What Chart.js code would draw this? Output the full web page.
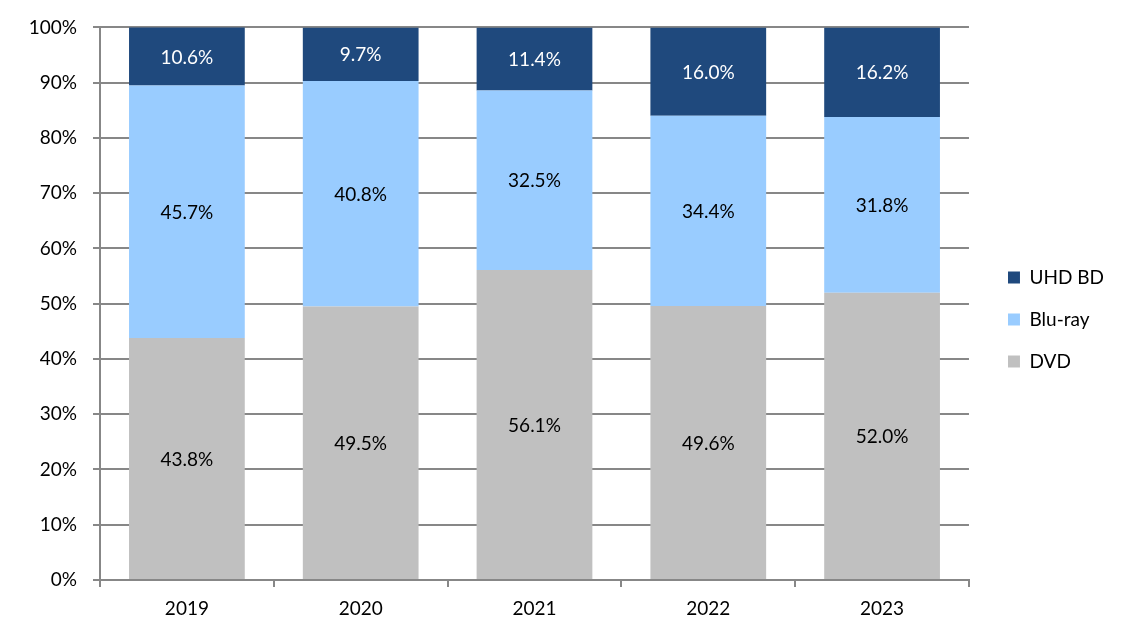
<!DOCTYPE html>
<html>
<head>
<meta charset="utf-8">
<script src="https://cdn.jsdelivr.net/npm/chart.js@4/dist/chart.umd.min.js"></script>
<style>
  html, body { margin: 0; padding: 0; background: #fff; }
  #wrap { width: 1138px; height: 640px; }
</style>
</head>
<body>
<div id="wrap"><canvas id="chart" width="1138" height="640"></canvas></div>
<script>
// values (share of units, %)
const years = ["2019", "2020", "2021", "2022", "2023"];
const dvd = [43.8, 49.5, 56.1, 49.6, 52.0];
const bluray = [45.7, 40.8, 32.5, 34.4, 31.8];
const uhd = [10.6, 9.7, 11.4, 16.0, 16.2];

const gray = "#878787";
const font = { family: "Lato, 'Noto Sans', sans-serif", size: 19 };

// draws the value in the middle of every bar segment
const barLabels = {
  id: "barLabels",
  afterDatasetsDraw(chart) {
    const ctx = chart.ctx;
    ctx.save();
    ctx.font = "19px Lato, 'Noto Sans', sans-serif";
    ctx.textAlign = "center";
    ctx.textBaseline = "middle";
    chart.data.datasets.forEach((ds, i) => {
      const meta = chart.getDatasetMeta(i);
      meta.data.forEach((bar, j) => {
        const p = bar.getCenterPoint();
        const top = Math.max(bar.y, chart.chartArea.top);
        ctx.fillStyle = ds.labelColor;
        ctx.fillText(ds.data[j].toFixed(1) + "%", p.x, (top + bar.base) / 2 + 1);
      });
    });
    ctx.restore();
  }
};

// nudge the legend a bit right and up, like the original
const legendShift = {
  id: "legendShift",
  afterLayout(chart) {
    const lg = chart.legend;
    lg.left += 16; lg.right += 16;
    lg.top -= 13; lg.bottom -= 13;
  }
};

new Chart(document.getElementById("chart"), {
  type: "bar",
  data: {
    labels: years,
    datasets: [
      { label: "DVD", data: dvd, backgroundColor: "#C0C0C0", labelColor: "#000" },
      { label: "Blu-ray", data: bluray, backgroundColor: "#99CCFF", labelColor: "#000" },
      { label: "UHD BD", data: uhd, backgroundColor: "#1F497D", labelColor: "#fff" }
    ]
  },
  options: {
    responsive: false,
    devicePixelRatio: 1,
    animation: false,
    datasets: {
      bar: { categoryPercentage: 0.666, barPercentage: 1, borderWidth: 0 }
    },
    layout: { padding: { top: 25, right: 40, bottom: 0, left: 0 } },
    scales: {
      x: {
        stacked: true,
        border: { color: gray, width: 2 },
        grid: { drawOnChartArea: false, drawTicks: true, tickLength: 7, color: gray, lineWidth: 2 },
        ticks: { color: "#000", font: font, padding: 10 },
        afterFit(s) { s.height = 60; }
      },
      y: {
        stacked: true,
        min: 0,
        max: 100,
        border: { color: gray, width: 2 },
        grid: { color: gray, lineWidth: 2, tickLength: 7 },
        ticks: {
          stepSize: 10,
          color: "#000",
          font: font,
          padding: 16,
          callback: v => v + "%"
        },
        afterFit(s) { s.width = 100; }
      }
    },
    plugins: {
      legend: {
        position: "right",
        reverse: true,
        labels: {
          boxWidth: 12,
          boxHeight: 12,
          padding: 23,
          color: "#000",
          font: font
        }
      },
      tooltip: { enabled: false }
    }
  },
  plugins: [barLabels, legendShift]
});
</script>
</body>
</html>
